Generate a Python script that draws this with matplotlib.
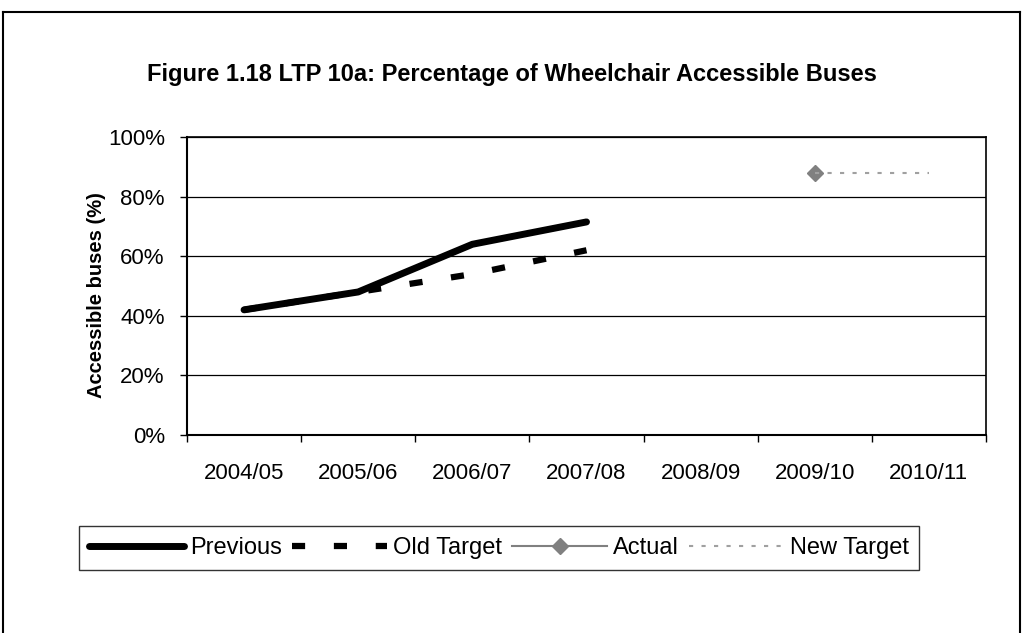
import numpy as np
import matplotlib
matplotlib.use("Agg")
import matplotlib.pyplot as plt
from matplotlib.lines import Line2D
from matplotlib.ticker import FuncFormatter, MultipleLocator

plt.rcParams['font.family'] = ['Liberation Sans', 'DejaVu Sans']

# data
years = ['2004/05', '2005/06', '2006/07', '2007/08', '2008/09', '2009/10', '2010/11']
previous = [42, 48, 64, 71.5, np.nan, np.nan, np.nan]
old_target = [42, 48, 54, 62, np.nan, np.nan, np.nan]
actual = [np.nan, np.nan, np.nan, np.nan, np.nan, 88, np.nan]
new_target = [np.nan, np.nan, np.nan, np.nan, np.nan, 88, 88]

fig = plt.figure(figsize=(10.24, 6.33), dpi=100)
ax = fig.add_axes([187 / 1024, 1 - 435 / 633, (986 - 187) / 1024, (435 - 137) / 633])

x = np.arange(len(years))
ax.plot(x, previous, color='black', linewidth=5, solid_capstyle='round', label='Previous')
ax.plot(x, old_target, color='black', linewidth=4.5, linestyle=(0, (2.1, 4.6)),
        dash_capstyle='butt', label='Old Target')
ax.plot(x, actual, color='#808080', linewidth=1.5, marker='D', markersize=8, label='Actual')
ax.plot(x, new_target, color='#a0a0a0', linewidth=1.5, linestyle=(0, (2, 4)), label='New Target')

ax.set_xlim(-0.5, len(years) - 0.5)
ax.set_ylim(0, 100)
ax.yaxis.set_major_locator(MultipleLocator(20))
ax.yaxis.set_major_formatter(FuncFormatter(lambda v, p: f'{int(v)}%'))
ax.set_xticks(x)
ax.set_xticklabels(years)
ax.set_xticks(np.arange(len(years) + 1) - 0.5, minor=True)
ax.tick_params(axis='x', which='major', length=0, pad=20, labelsize=16)
ax.tick_params(axis='x', which='minor', length=5, width=1, direction='out')
ax.tick_params(axis='y', length=5, width=1, direction='out', pad=11, labelsize=16)
ax.yaxis.grid(True, color='black', linewidth=0.9)
ax.set_axisbelow(True)
for side in ['left', 'bottom']:
    ax.spines[side].set_linewidth(1.5)
for side in ['top', 'right']:
    ax.spines[side].set_linewidth(1.2)

ax.set_ylabel('Accessible buses (%)', fontsize=14.5, fontweight='bold')
ax.yaxis.set_label_coords(-0.101, 0.47)
fig.text(0.5, 1 - 75 / 633, 'Figure 1.18 LTP 10a: Percentage of Wheelchair Accessible Buses',
         ha='center', va='center', fontsize=17, fontweight='bold')

leg = ax.legend(loc='center', bbox_to_anchor=(499 / 1024, 1 - 548 / 633),
                bbox_transform=fig.transFigure, ncol=4, fontsize=17, frameon=True,
                fancybox=False, edgecolor='black', handlelength=4.0, handletextpad=0.25,
                columnspacing=0.45, borderpad=0.45, borderaxespad=0)
leg.get_frame().set_linewidth(1)

# outer border of the chart (bottom edge is cut off in the reference)
bx0, bx1, by = 3 / 1024, 1020 / 1024, 1 - 12 / 633
for xs, ys in [([bx0, bx0], [0, by]), ([bx0, bx1], [by, by]), ([bx1, bx1], [by, 0])]:
    fig.add_artist(Line2D(xs, ys, color='black', linewidth=1.5, transform=fig.transFigure))

fig.savefig('out.png', dpi=100)
